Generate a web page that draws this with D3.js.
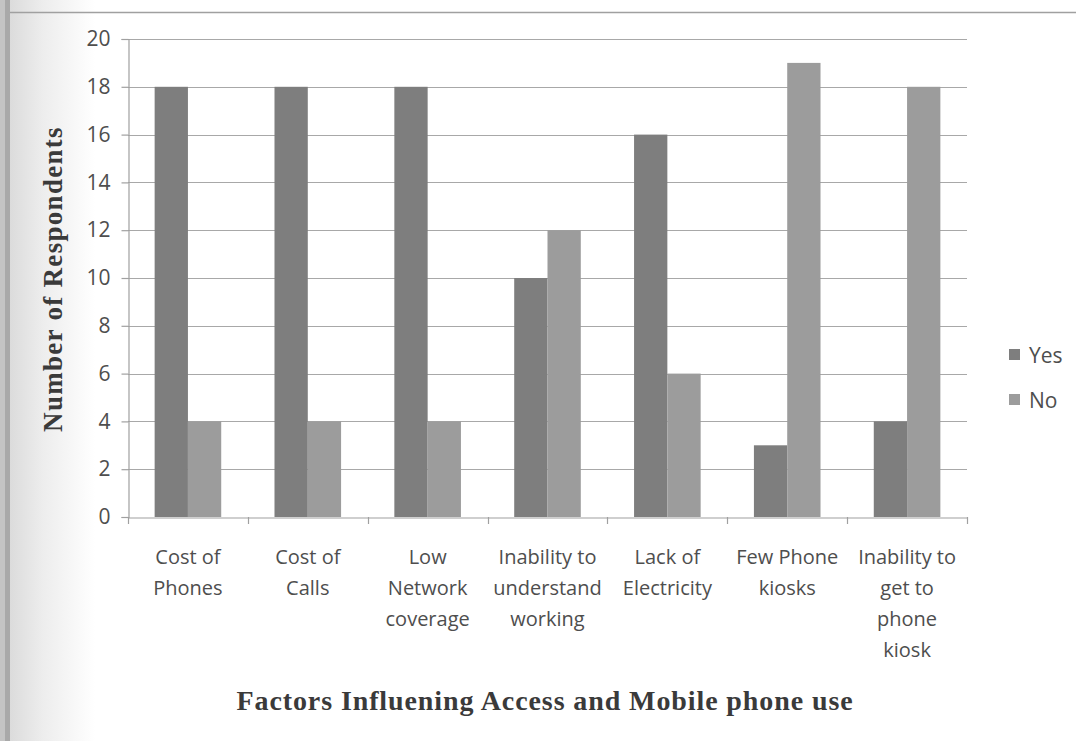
<!DOCTYPE html>
<html>
<head>
<meta charset="utf-8">
<script src="https://cdn.jsdelivr.net/npm/d3@7"></script>
<style>
  html, body { margin: 0; padding: 0; background: #fff; }
  svg { display: block; }
</style>
</head>
<body>
<svg id="chart" width="1076" height="741"></svg>
<script>
const categories = [
  ["Cost of", "Phones"],
  ["Cost of", "Calls"],
  ["Low", "Network", "coverage"],
  ["Inability to", "understand", "working"],
  ["Lack of", "Electricity"],
  ["Few Phone", "kiosks"],
  ["Inability to", "get to", "phone", "kiosk"]
];
const seriesNames = ["Yes", "No"];
const yesValues = [18, 18, 18, 10, 16, 3, 4];
const noValues = [4, 4, 4, 12, 6, 19, 18];
const yTicks = [0, 2, 4, 6, 8, 10, 12, 14, 16, 18, 20];

const colors = { Yes: "#7e7e7e", No: "#9c9c9c" };
const textFont = "'Open Sans', sans-serif";
const serifFont = "'Liberation Serif', serif";

const svg = d3.select("#chart");
const W = 1076, H = 741;
const plot = { left: 128, right: 967, top: 39, bottom: 517 };

// page background with a soft gray shading at the left edge
const defs = svg.append("defs");
const grad = defs.append("linearGradient").attr("id", "edge").attr("x1", 0).attr("x2", 1).attr("y1", 0).attr("y2", 0);
grad.append("stop").attr("offset", "0").attr("stop-color", "#d6d6d6");
grad.append("stop").attr("offset", "0.45").attr("stop-color", "#ededed");
grad.append("stop").attr("offset", "1").attr("stop-color", "#ffffff");
svg.append("rect").attr("width", W).attr("height", H).attr("fill", "#fff");
svg.append("rect").attr("x", 0).attr("y", 0).attr("width", 95).attr("height", H).attr("fill", "url(#edge)");
svg.append("rect").attr("x", 0).attr("y", 0).attr("width", 5).attr("height", H).attr("fill", "#c4c4c4");
svg.append("rect").attr("x", 5).attr("y", 0).attr("width", 5).attr("height", H).attr("fill", "#a9a9a9");
svg.append("line").attr("x1", 10).attr("x2", W).attr("y1", 12.5).attr("y2", 12.5)
  .attr("stroke", "#a0a0a0").attr("stroke-width", 1.5);

const labels = categories.map(c => c.join(" "));
const x = d3.scaleBand().domain(labels).range([plot.left, plot.right]).paddingInner(0).paddingOuter(0);
const xSub = d3.scaleBand().domain(seriesNames).range([0, x.bandwidth()]).paddingInner(0).paddingOuter(0.8);
const y = d3.scaleLinear().domain([0, 20]).range([plot.bottom, plot.top]);

// horizontal gridlines
svg.append("g").selectAll("line").data(yTicks.filter(t => t > 0)).join("line")
  .attr("x1", plot.left).attr("x2", plot.right)
  .attr("y1", d => Math.round(y(d)) + 0.5).attr("y2", d => Math.round(y(d)) + 0.5)
  .attr("stroke", "#a8a8a8").attr("stroke-width", 1.2);

// bars
const groups = svg.append("g").selectAll("g").data(labels).join("g")
  .attr("transform", d => `translate(${x(d)},0)`);
groups.selectAll("rect").data((d, i) => [
  { key: "Yes", v: yesValues[i] },
  { key: "No", v: noValues[i] }
]).join("rect")
  .attr("x", d => xSub(d.key))
  .attr("width", xSub.bandwidth())
  .attr("y", d => y(d.v))
  .attr("height", d => y(0) - y(d.v))
  .attr("fill", d => colors[d.key]);

// y axis
const yAxis = svg.append("g").attr("transform", `translate(${plot.left + 0.5},0)`)
  .call(d3.axisLeft(y).tickValues(yTicks).tickSize(7).tickPadding(11));
yAxis.select(".domain").attr("stroke", "#a0a0a0").attr("stroke-width", 1.2);
yAxis.selectAll(".tick line").attr("stroke", "#a0a0a0").attr("stroke-width", 1.2);
yAxis.selectAll(".tick text").attr("fill", "#4e4e4e")
  .style("font-family", textFont).style("font-size", "21px");

// x axis
const xAxis = svg.append("g").attr("transform", `translate(0,${plot.bottom + 0.5})`)
  .call(d3.axisBottom(x).tickSize(0).tickFormat(""));
xAxis.select(".domain").attr("stroke", "#a0a0a0").attr("stroke-width", 1.2);
const bounds = labels.map(l => x(l)).concat([plot.right]);
svg.append("g").selectAll("line").data(bounds).join("line")
  .attr("x1", d => Math.round(d) + 0.5).attr("x2", d => Math.round(d) + 0.5)
  .attr("y1", plot.bottom).attr("y2", plot.bottom + 7)
  .attr("stroke", "#a0a0a0").attr("stroke-width", 1.2);

// category labels
const catText = svg.append("g").selectAll("text").data(categories).join("text")
  .attr("text-anchor", "middle")
  .attr("fill", "#4e4e4e")
  .style("font-family", textFont).style("font-size", "20px")
  .attr("transform", (d, i) => `translate(${x(labels[i]) + x.bandwidth() / 2},564)`);
catText.selectAll("tspan").data(d => d).join("tspan")
  .attr("x", 0).attr("dy", (d, i) => i === 0 ? 0 : 31).text(d => d);

// y axis title
svg.append("text")
  .attr("transform", `translate(62,279) rotate(-90)`)
  .attr("text-anchor", "middle")
  .attr("fill", "#3a3a3a")
  .style("font-family", serifFont).style("font-weight", "bold").style("font-size", "27px")
  .style("letter-spacing", "1.3px")
  .text("Number of Respondents");

// legend
const legend = svg.append("g").selectAll("g").data(seriesNames).join("g")
  .attr("transform", (d, i) => `translate(1009,${349 + i * 45})`);
legend.append("rect").attr("x", 0).attr("y", 0).attr("width", 11).attr("height", 11)
  .attr("fill", d => colors[d]);
legend.append("text").attr("x", 20).attr("y", 14)
  .attr("fill", "#4e4e4e")
  .style("font-family", textFont).style("font-size", "21px")
  .text(d => d);

// chart title
svg.append("text")
  .attr("x", 545).attr("y", 710)
  .attr("text-anchor", "middle")
  .attr("fill", "#3a3a3a")
  .style("font-family", serifFont).style("font-weight", "bold").style("font-size", "28px")
  .style("letter-spacing", "0.9px")
  .text("Factors Influening Access and Mobile phone use");
</script>
</body>
</html>
